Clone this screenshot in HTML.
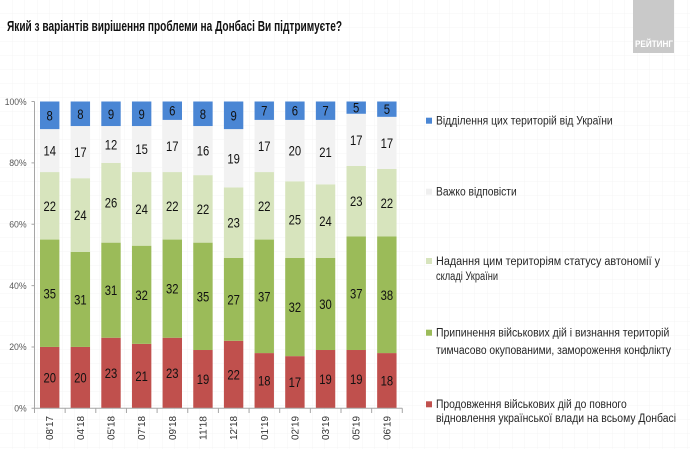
<!DOCTYPE html>
<html><head><meta charset="utf-8">
<style>
html,body{margin:0;padding:0;background:#fff;}
svg{display:block;}
text{font-family:"Liberation Sans Narrow","Liberation Sans",sans-serif;}
</style></head>
<body>
<svg width="690" height="449" viewBox="0 0 690 449" xmlns="http://www.w3.org/2000/svg">
<defs>
<pattern id="grid" width="12.5" height="14" patternUnits="userSpaceOnUse">
<path d="M12.5 0V14M0 14H12.5" stroke="#f4f4f4" stroke-width="1" fill="none"/>
</pattern>
</defs>
<rect width="690" height="449" fill="#fff"/>
<rect width="690" height="449" fill="url(#grid)"/>

<!-- title -->
<text x="7" y="31" font-size="14.5" font-weight="bold" fill="#111" textLength="335" lengthAdjust="spacingAndGlyphs">Який з варіантів вирішення проблеми на Донбасі Ви підтримуєте?</text>

<!-- logo -->
<rect x="633" y="0" width="41" height="53" fill="#c9c9c9"/>
<text x="635" y="47" font-size="9" font-weight="bold" fill="#fff" textLength="38" lengthAdjust="spacingAndGlyphs">РЕЙТИНГ</text>

<!-- bars -->
<g>
<rect x="40" y="346.94" width="19.4" height="61.36" fill="#c0504d"/>
<rect x="40" y="239.56" width="19.4" height="107.38" fill="#9bbb59"/>
<rect x="40" y="172.06" width="19.4" height="67.5" fill="#d7e4bd"/>
<rect x="40" y="129.11" width="19.4" height="42.95" fill="#f2f2f2"/>
<rect x="40" y="101.5" width="19.4" height="27.61" fill="#4a86d4"/>
<rect x="70.65" y="346.94" width="19.4" height="61.36" fill="#c0504d"/>
<rect x="70.65" y="251.83" width="19.4" height="95.11" fill="#9bbb59"/>
<rect x="70.65" y="178.2" width="19.4" height="73.63" fill="#d7e4bd"/>
<rect x="70.65" y="126.04" width="19.4" height="52.16" fill="#f2f2f2"/>
<rect x="70.65" y="101.5" width="19.4" height="24.54" fill="#4a86d4"/>
<rect x="101.3" y="337.74" width="19.4" height="70.56" fill="#c0504d"/>
<rect x="101.3" y="242.63" width="19.4" height="95.11" fill="#9bbb59"/>
<rect x="101.3" y="162.86" width="19.4" height="79.77" fill="#d7e4bd"/>
<rect x="101.3" y="126.04" width="19.4" height="36.82" fill="#f2f2f2"/>
<rect x="101.3" y="101.5" width="19.4" height="24.54" fill="#4a86d4"/>
<rect x="131.95" y="343.87" width="19.4" height="64.43" fill="#c0504d"/>
<rect x="131.95" y="245.7" width="19.4" height="98.17" fill="#9bbb59"/>
<rect x="131.95" y="172.06" width="19.4" height="73.64" fill="#d7e4bd"/>
<rect x="131.95" y="126.04" width="19.4" height="46.02" fill="#f2f2f2"/>
<rect x="131.95" y="101.5" width="19.4" height="24.54" fill="#4a86d4"/>
<rect x="162.6" y="337.74" width="19.4" height="70.56" fill="#c0504d"/>
<rect x="162.6" y="239.56" width="19.4" height="98.18" fill="#9bbb59"/>
<rect x="162.6" y="172.06" width="19.4" height="67.5" fill="#d7e4bd"/>
<rect x="162.6" y="119.91" width="19.4" height="52.15" fill="#f2f2f2"/>
<rect x="162.6" y="101.5" width="19.4" height="18.41" fill="#4a86d4"/>
<rect x="193.25" y="350.01" width="19.4" height="58.29" fill="#c0504d"/>
<rect x="193.25" y="242.63" width="19.4" height="107.38" fill="#9bbb59"/>
<rect x="193.25" y="175.13" width="19.4" height="67.5" fill="#d7e4bd"/>
<rect x="193.25" y="126.04" width="19.4" height="49.09" fill="#f2f2f2"/>
<rect x="193.25" y="101.5" width="19.4" height="24.54" fill="#4a86d4"/>
<rect x="223.9" y="340.8" width="19.4" height="67.5" fill="#c0504d"/>
<rect x="223.9" y="257.97" width="19.4" height="82.83" fill="#9bbb59"/>
<rect x="223.9" y="187.4" width="19.4" height="70.57" fill="#d7e4bd"/>
<rect x="223.9" y="129.11" width="19.4" height="58.29" fill="#f2f2f2"/>
<rect x="223.9" y="101.5" width="19.4" height="27.61" fill="#4a86d4"/>
<rect x="254.55" y="353.08" width="19.4" height="55.22" fill="#c0504d"/>
<rect x="254.55" y="239.56" width="19.4" height="113.52" fill="#9bbb59"/>
<rect x="254.55" y="172.06" width="19.4" height="67.5" fill="#d7e4bd"/>
<rect x="254.55" y="119.91" width="19.4" height="52.15" fill="#f2f2f2"/>
<rect x="254.55" y="101.5" width="19.4" height="18.41" fill="#4a86d4"/>
<rect x="285.2" y="356.14" width="19.4" height="52.16" fill="#c0504d"/>
<rect x="285.2" y="257.97" width="19.4" height="98.17" fill="#9bbb59"/>
<rect x="285.2" y="181.27" width="19.4" height="76.7" fill="#d7e4bd"/>
<rect x="285.2" y="119.91" width="19.4" height="61.36" fill="#f2f2f2"/>
<rect x="285.2" y="101.5" width="19.4" height="18.41" fill="#4a86d4"/>
<rect x="315.85" y="350.01" width="19.4" height="58.29" fill="#c0504d"/>
<rect x="315.85" y="257.97" width="19.4" height="92.04" fill="#9bbb59"/>
<rect x="315.85" y="184.34" width="19.4" height="73.63" fill="#d7e4bd"/>
<rect x="315.85" y="119.91" width="19.4" height="64.43" fill="#f2f2f2"/>
<rect x="315.85" y="101.5" width="19.4" height="18.41" fill="#4a86d4"/>
<rect x="346.5" y="350.01" width="19.4" height="58.29" fill="#c0504d"/>
<rect x="346.5" y="236.49" width="19.4" height="113.52" fill="#9bbb59"/>
<rect x="346.5" y="165.93" width="19.4" height="70.56" fill="#d7e4bd"/>
<rect x="346.5" y="113.77" width="19.4" height="52.16" fill="#f2f2f2"/>
<rect x="346.5" y="101.5" width="19.4" height="12.27" fill="#4a86d4"/>
<rect x="377.15" y="353.08" width="19.4" height="55.22" fill="#c0504d"/>
<rect x="377.15" y="236.49" width="19.4" height="116.59" fill="#9bbb59"/>
<rect x="377.15" y="169.0" width="19.4" height="67.49" fill="#d7e4bd"/>
<rect x="377.15" y="116.84" width="19.4" height="52.16" fill="#f2f2f2"/>
<rect x="377.15" y="101.5" width="19.4" height="15.34" fill="#4a86d4"/>
</g>

<!-- value labels -->
<g font-size="14" fill="#111" text-anchor="middle">
<text x="49.7" y="382.6" textLength="12.5" lengthAdjust="spacingAndGlyphs">20</text>
<text x="49.7" y="298.3" textLength="12.5" lengthAdjust="spacingAndGlyphs">35</text>
<text x="49.7" y="210.8" textLength="12.5" lengthAdjust="spacingAndGlyphs">22</text>
<text x="49.7" y="155.6" textLength="12.5" lengthAdjust="spacingAndGlyphs">14</text>
<text x="49.7" y="120.3" textLength="6.3" lengthAdjust="spacingAndGlyphs">8</text>

<text x="80.35" y="382.6" textLength="12.5" lengthAdjust="spacingAndGlyphs">20</text>
<text x="80.35" y="304.4" textLength="12.5" lengthAdjust="spacingAndGlyphs">31</text>
<text x="80.35" y="220.0" textLength="12.5" lengthAdjust="spacingAndGlyphs">24</text>
<text x="80.35" y="157.1" textLength="12.5" lengthAdjust="spacingAndGlyphs">17</text>
<text x="80.35" y="118.8" textLength="6.3" lengthAdjust="spacingAndGlyphs">8</text>

<text x="111" y="378.0" textLength="12.5" lengthAdjust="spacingAndGlyphs">23</text>
<text x="111" y="295.2" textLength="12.5" lengthAdjust="spacingAndGlyphs">31</text>
<text x="111" y="207.7" textLength="12.5" lengthAdjust="spacingAndGlyphs">26</text>
<text x="111" y="149.5" textLength="12.5" lengthAdjust="spacingAndGlyphs">12</text>
<text x="111" y="118.8" textLength="6.3" lengthAdjust="spacingAndGlyphs">9</text>

<text x="141.65" y="381.1" textLength="12.5" lengthAdjust="spacingAndGlyphs">21</text>
<text x="141.65" y="299.8" textLength="12.5" lengthAdjust="spacingAndGlyphs">32</text>
<text x="141.65" y="213.9" textLength="12.5" lengthAdjust="spacingAndGlyphs">24</text>
<text x="141.65" y="154.1" textLength="12.5" lengthAdjust="spacingAndGlyphs">15</text>
<text x="141.65" y="118.8" textLength="6.3" lengthAdjust="spacingAndGlyphs">9</text>

<text x="172.3" y="378.0" textLength="12.5" lengthAdjust="spacingAndGlyphs">23</text>
<text x="172.3" y="293.7" textLength="12.5" lengthAdjust="spacingAndGlyphs">32</text>
<text x="172.3" y="210.8" textLength="12.5" lengthAdjust="spacingAndGlyphs">22</text>
<text x="172.3" y="151.0" textLength="12.5" lengthAdjust="spacingAndGlyphs">17</text>
<text x="172.3" y="115.7" textLength="6.3" lengthAdjust="spacingAndGlyphs">6</text>

<text x="202.95" y="384.2" textLength="12.5" lengthAdjust="spacingAndGlyphs">19</text>
<text x="202.95" y="301.3" textLength="12.5" lengthAdjust="spacingAndGlyphs">35</text>
<text x="202.95" y="213.9" textLength="12.5" lengthAdjust="spacingAndGlyphs">22</text>
<text x="202.95" y="155.6" textLength="12.5" lengthAdjust="spacingAndGlyphs">16</text>
<text x="202.95" y="118.8" textLength="6.3" lengthAdjust="spacingAndGlyphs">8</text>

<text x="233.6" y="379.6" textLength="12.5" lengthAdjust="spacingAndGlyphs">22</text>
<text x="233.6" y="304.4" textLength="12.5" lengthAdjust="spacingAndGlyphs">27</text>
<text x="233.6" y="227.7" textLength="12.5" lengthAdjust="spacingAndGlyphs">23</text>
<text x="233.6" y="163.3" textLength="12.5" lengthAdjust="spacingAndGlyphs">19</text>
<text x="233.6" y="120.3" textLength="6.3" lengthAdjust="spacingAndGlyphs">9</text>

<text x="264.25" y="385.7" textLength="12.5" lengthAdjust="spacingAndGlyphs">18</text>
<text x="264.25" y="301.3" textLength="12.5" lengthAdjust="spacingAndGlyphs">37</text>
<text x="264.25" y="210.8" textLength="12.5" lengthAdjust="spacingAndGlyphs">22</text>
<text x="264.25" y="151.0" textLength="12.5" lengthAdjust="spacingAndGlyphs">17</text>
<text x="264.25" y="115.7" textLength="6.3" lengthAdjust="spacingAndGlyphs">7</text>

<text x="294.9" y="387.2" textLength="12.5" lengthAdjust="spacingAndGlyphs">17</text>
<text x="294.9" y="312.1" textLength="12.5" lengthAdjust="spacingAndGlyphs">32</text>
<text x="294.9" y="224.6" textLength="12.5" lengthAdjust="spacingAndGlyphs">25</text>
<text x="294.9" y="155.6" textLength="12.5" lengthAdjust="spacingAndGlyphs">20</text>
<text x="294.9" y="115.7" textLength="6.3" lengthAdjust="spacingAndGlyphs">6</text>

<text x="325.55" y="384.2" textLength="12.5" lengthAdjust="spacingAndGlyphs">19</text>
<text x="325.55" y="309.0" textLength="12.5" lengthAdjust="spacingAndGlyphs">30</text>
<text x="325.55" y="226.2" textLength="12.5" lengthAdjust="spacingAndGlyphs">24</text>
<text x="325.55" y="157.1" textLength="12.5" lengthAdjust="spacingAndGlyphs">21</text>
<text x="325.55" y="115.7" textLength="6.3" lengthAdjust="spacingAndGlyphs">7</text>

<text x="356.2" y="384.2" textLength="12.5" lengthAdjust="spacingAndGlyphs">19</text>
<text x="356.2" y="298.3" textLength="12.5" lengthAdjust="spacingAndGlyphs">37</text>
<text x="356.2" y="206.2" textLength="12.5" lengthAdjust="spacingAndGlyphs">23</text>
<text x="356.2" y="144.9" textLength="12.5" lengthAdjust="spacingAndGlyphs">17</text>
<text x="356.2" y="112.6" textLength="6.3" lengthAdjust="spacingAndGlyphs">5</text>

<text x="386.85" y="385.7" textLength="12.5" lengthAdjust="spacingAndGlyphs">18</text>
<text x="386.85" y="299.8" textLength="12.5" lengthAdjust="spacingAndGlyphs">38</text>
<text x="386.85" y="207.8" textLength="12.5" lengthAdjust="spacingAndGlyphs">22</text>
<text x="386.85" y="147.9" textLength="12.5" lengthAdjust="spacingAndGlyphs">17</text>
<text x="386.85" y="114.2" textLength="6.3" lengthAdjust="spacingAndGlyphs">5</text>
</g>

<!-- axes -->
<g stroke="#a6a6a6" stroke-width="1" fill="none">
<path d="M34.5 101.5V408.3H402.3"/>
<path d="M31.5 101.5H34.5M31.5 162.86H34.5M31.5 224.22H34.5M31.5 285.58H34.5M31.5 346.94H34.5M31.5 408.3H34.5"/>
<path d="M34.5 408.3V413M65.15 408.3V413M95.8 408.3V413M126.45 408.3V413M157.1 408.3V413M187.75 408.3V413M218.4 408.3V413M249.05 408.3V413M279.7 408.3V413M310.35 408.3V413M341 408.3V413M371.65 408.3V413M402.3 408.3V413"/>
</g>

<!-- y tick labels -->
<g font-size="9" fill="#595959" text-anchor="end">
<text x="26.7" y="104.8" textLength="22" lengthAdjust="spacingAndGlyphs">100%</text>
<text x="26.7" y="166.1" textLength="17.5" lengthAdjust="spacingAndGlyphs">80%</text>
<text x="26.7" y="227.5" textLength="17.5" lengthAdjust="spacingAndGlyphs">60%</text>
<text x="26.7" y="288.9" textLength="17.5" lengthAdjust="spacingAndGlyphs">40%</text>
<text x="26.7" y="350.2" textLength="17.5" lengthAdjust="spacingAndGlyphs">20%</text>
<text x="26.7" y="411.6" textLength="12.5" lengthAdjust="spacingAndGlyphs">0%</text>
</g>

<!-- x labels -->
<g font-size="10" fill="#333" text-anchor="end">
<text transform="translate(53.2,416) rotate(-90)" textLength="24" lengthAdjust="spacingAndGlyphs">08'17</text>
<text transform="translate(83.85,416) rotate(-90)" textLength="24" lengthAdjust="spacingAndGlyphs">04'18</text>
<text transform="translate(114.5,416) rotate(-90)" textLength="24" lengthAdjust="spacingAndGlyphs">05'18</text>
<text transform="translate(145.15,416) rotate(-90)" textLength="24" lengthAdjust="spacingAndGlyphs">07'18</text>
<text transform="translate(175.8,416) rotate(-90)" textLength="24" lengthAdjust="spacingAndGlyphs">09'18</text>
<text transform="translate(206.45,416) rotate(-90)" textLength="24" lengthAdjust="spacingAndGlyphs">11'18</text>
<text transform="translate(237.1,416) rotate(-90)" textLength="24" lengthAdjust="spacingAndGlyphs">12'18</text>
<text transform="translate(267.75,416) rotate(-90)" textLength="24" lengthAdjust="spacingAndGlyphs">01'19</text>
<text transform="translate(298.4,416) rotate(-90)" textLength="24" lengthAdjust="spacingAndGlyphs">02'19</text>
<text transform="translate(329.05,416) rotate(-90)" textLength="24" lengthAdjust="spacingAndGlyphs">03'19</text>
<text transform="translate(359.7,416) rotate(-90)" textLength="24" lengthAdjust="spacingAndGlyphs">05'19</text>
<text transform="translate(390.35,416) rotate(-90)" textLength="24" lengthAdjust="spacingAndGlyphs">06'19</text>
</g>

<!-- legend -->
<rect x="426" y="117.7" width="6" height="6" fill="#4a86d4"/>
<rect x="426" y="188.7" width="6" height="6" fill="#efefef"/>
<rect x="426" y="258" width="6" height="6" fill="#d7e4bd"/>
<rect x="426" y="329.7" width="6" height="6" fill="#9bbb59"/>
<rect x="426" y="401.3" width="6" height="6" fill="#c0504d"/>
<g font-size="11.5" fill="#262626">
<text x="436" y="124.6" textLength="176.7" lengthAdjust="spacingAndGlyphs">Відділення цих територій від України</text>
<text x="436" y="195.6" textLength="80.7" lengthAdjust="spacingAndGlyphs">Важко відповісти</text>
<text x="436" y="265" textLength="224" lengthAdjust="spacingAndGlyphs">Надання цим територіям статусу автономії у</text>
<text x="436" y="280" textLength="62" lengthAdjust="spacingAndGlyphs">складі України</text>
<text x="436" y="336.6" textLength="233.3" lengthAdjust="spacingAndGlyphs">Припинення військових дій і визнання територій</text>
<text x="436" y="354" textLength="235" lengthAdjust="spacingAndGlyphs">тимчасово окупованими, замороження конфлікту</text>
<text x="436" y="408.2" textLength="190.7" lengthAdjust="spacingAndGlyphs">Продовження військових дій до повного</text>
<text x="436" y="422.2" textLength="240" lengthAdjust="spacingAndGlyphs">відновлення української влади на всьому Донбасі</text>
</g>
</svg>
</body></html>
